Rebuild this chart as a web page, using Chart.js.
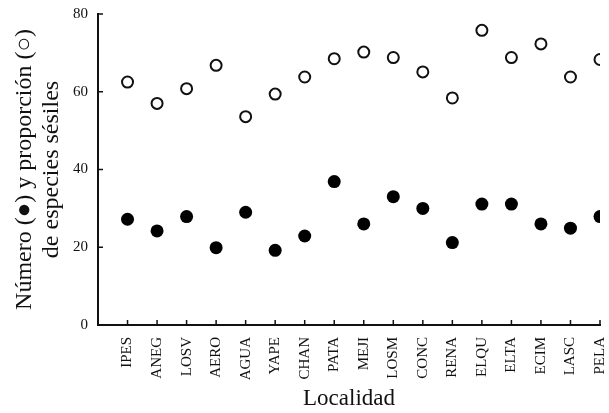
<!DOCTYPE html>
<html><head><meta charset="utf-8">
<script src="https://cdn.jsdelivr.net/npm/chart.js@4/dist/chart.umd.min.js"></script>
<style>html,body{margin:0;padding:0;background:#fff}#wrap{width:609px;height:413px}</style>
</head><body><div id="wrap"><canvas id="c" width="609" height="413"></canvas></div>
<script>
const categories = ['IPES','ANEG','LOSV','AERO','AGUA','YAPE','CHAN','PATA','MEJI','LOSM','CONC','RENA','ELQU','ELTA','ECIM','LASC','PELA'];
const numero = [27.2,24.2,27.9,19.9,29.0,19.2,22.9,36.9,26.0,33.0,30.0,21.2,31.1,31.1,26.0,24.9,27.9];
const proporcion = [62.5,57.0,60.8,66.8,53.6,59.4,63.8,68.5,70.2,68.8,65.1,58.4,75.8,68.8,72.3,63.8,68.3];
const yTicks = [0,20,40,60,80];

const ink = '#111';
const serif = "'Liberation Serif','Times New Roman',serif";

const innerTicks = {
  id: 'innerTicks',
  afterDraw(chart) {
    const ctx = chart.ctx;
    const xs = chart.scales.x, ys = chart.scales.y;
    ctx.save();
    ctx.strokeStyle = ink;
    ctx.lineWidth = 1.5;
    ctx.beginPath();
    for (let i = 1; i <= categories.length; i++) {
      const px = xs.getPixelForValue(i);
      ctx.moveTo(px, ys.bottom);
      ctx.lineTo(px, ys.bottom - 5);
    }
    yTicks.forEach(v => {
      const py = ys.getPixelForValue(v);
      ctx.moveTo(xs.left, py);
      ctx.lineTo(xs.left + 5, py);
    });
    ctx.stroke();
    ctx.restore();
  }
};

new Chart(document.getElementById('c'), {
  type: 'scatter',
  data: {
    datasets: [
      {
        label: 'Proporción',
        data: proporcion.map((v, i) => ({x: i + 1, y: v})),
        pointRadius: 5.5,
        pointBorderWidth: 2,
        pointBorderColor: ink,
        pointBackgroundColor: '#fff'
      },
      {
        label: 'Número',
        data: numero.map((v, i) => ({x: i + 1, y: v})),
        pointRadius: 6.5,
        pointBorderWidth: 0,
        pointBorderColor: '#000',
        pointBackgroundColor: '#000'
      }
    ]
  },
  options: {
    responsive: false,
    animation: false,
    layout: {padding: {top: 14, right: 9, left: 0, bottom: 0}},
    plugins: {legend: {display: false}, tooltip: {enabled: false}},
    scales: {
      x: {
        type: 'linear',
        min: 0, max: categories.length,
        afterBuildTicks(scale) {
          scale.ticks = categories.map((c, i) => ({value: i + 1}));
        },
        afterFit(scale) { scale.height = 88; scale.paddingRight = 0; scale.paddingLeft = 0; },
        border: {display: true, color: ink, width: 2},
        grid: {display: false, drawTicks: false},
        ticks: {
          autoSkip: false,
          minRotation: 90, maxRotation: 90,
          padding: 12,
          color: ink,
          font: {family: serif, size: 15},
          callback: v => categories[v - 1] || ''
        },
        title: {
          display: true, text: 'Localidad', color: ink,
          font: {family: serif, size: 23},
          padding: {top: 2, bottom: 0}
        }
      },
      y: {
        min: 0, max: 80,
        afterBuildTicks(scale) { scale.ticks = yTicks.map(v => ({value: v})); },
        afterFit(scale) { scale.width = 98; scale.paddingTop = 0; scale.paddingBottom = 0; },
        border: {display: true, color: ink, width: 2},
        grid: {display: false, drawTicks: false},
        ticks: {
          padding: 10, color: ink,
          font: {family: serif, size: 15}
        },
        title: {
          display: true,
          text: ['Número (●) y proporción (○)', 'de especies sésiles'],
          color: ink,
          font: {family: serif, size: 24, lineHeight: 1.1},
          padding: {top: 12, bottom: 0}
        }
      }
    }
  },
  plugins: [innerTicks]
});
</script></body></html>
